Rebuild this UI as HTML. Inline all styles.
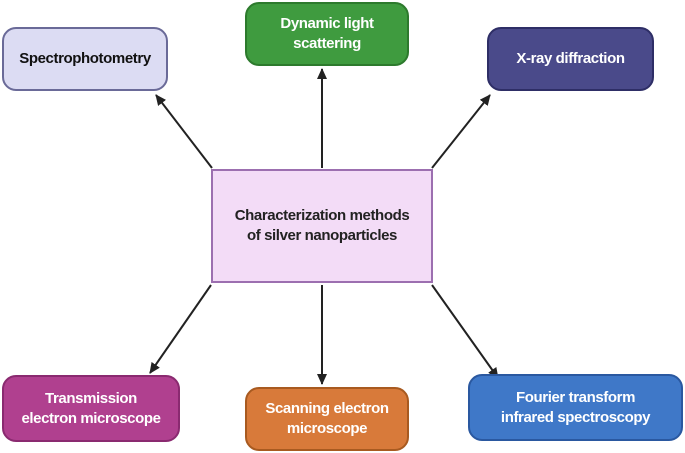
<!DOCTYPE html>
<html><head><meta charset="utf-8"><style>
body{margin:0;width:685px;height:453px;background:#fff;position:relative;overflow:hidden;font-family:"Liberation Sans Narrow","Liberation Sans",sans-serif;}
.b{position:absolute;box-sizing:border-box;border-radius:14px;border:2px solid;display:flex;align-items:center;justify-content:center;text-align:center;font-weight:bold;font-size:15px;line-height:20px;color:#fff;letter-spacing:-0.4px}
svg{position:absolute;left:0;top:0}
</style></head><body>
<svg width="685" height="453">
<defs><marker id="a" markerWidth="11" markerHeight="10" refX="10" refY="5" orient="auto" markerUnits="userSpaceOnUse"><path d="M0,0 L11,5 L0,10 z" fill="#222"/></marker></defs>
<g stroke="#222" stroke-width="2" marker-end="url(#a)">
<line x1="212" y1="168" x2="156" y2="95"/>
<line x1="322" y1="168" x2="322" y2="69"/>
<line x1="432" y1="168" x2="490" y2="95"/>
<line x1="211" y1="285" x2="150" y2="373"/>
<line x1="322" y1="285" x2="322" y2="384"/>
<line x1="432" y1="285" x2="498" y2="378"/>
</g></svg>
<div class="b" style="left:2px;top:27px;width:166px;height:64px;background:#dcdcf3;border-color:#6a6a98;color:#111">Spectrophotometry</div>
<div class="b" style="left:245px;top:2px;width:164px;height:64px;background:#3f9b3f;border-color:#2d7a2d">Dynamic light<br>scattering</div>
<div class="b" style="left:487px;top:27px;width:167px;height:64px;background:#4a4a8a;border-color:#2e2e66">X-ray diffraction</div>
<div class="b" style="left:211px;top:169px;width:222px;height:114px;background:#f3dcf7;border-color:#9c6fb0;border-radius:0;color:#222;font-size:15px">Characterization methods<br>of silver nanoparticles</div>
<div class="b" style="left:2px;top:375px;width:178px;height:67px;background:#b0408f;border-color:#8a2a70">Transmission<br>electron microscope</div>
<div class="b" style="left:245px;top:387px;width:164px;height:64px;background:#d87a3a;border-color:#a85a20">Scanning electron<br>microscope</div>
<div class="b" style="left:468px;top:374px;width:215px;height:67px;background:#3f78c8;border-color:#2a58a0">Fourier transform<br>infrared spectroscopy</div>
</body></html>
